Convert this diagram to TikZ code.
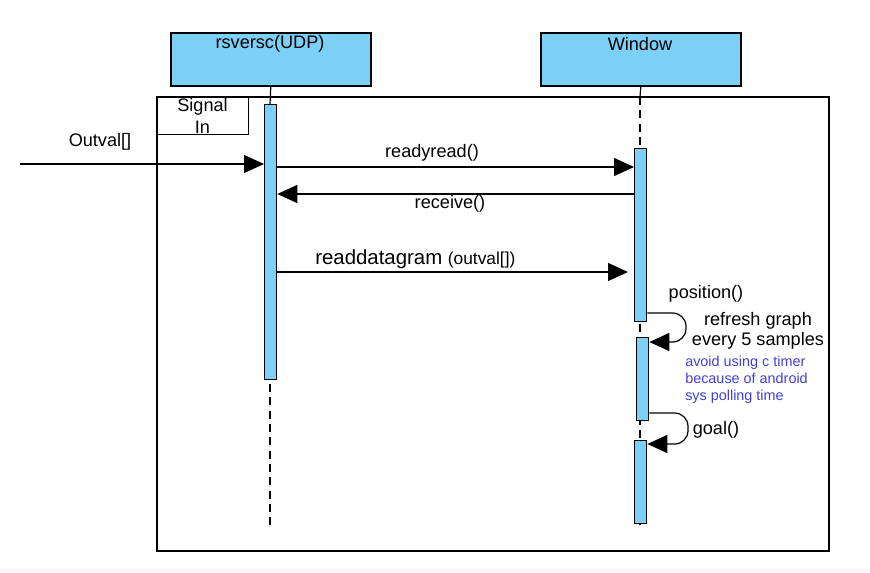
\documentclass[tikz,border=0pt]{standalone}
\usepackage{fontspec}
\setmainfont{Liberation Sans}
\usetikzlibrary{arrows.meta}
\definecolor{lblue}{HTML}{7CCFF5}
\definecolor{notec}{HTML}{4040D8}
\begin{document}
\begin{tikzpicture}[x=0.75pt,y=-0.75pt,
  hdr/.style={draw=black,line width=1.2pt,fill=lblue,minimum width=150pt,minimum height=39.75pt,anchor=north west,inner sep=0pt},
  act/.style={draw=black,line width=1pt,fill=lblue,anchor=north west,inner sep=0pt,minimum width=9pt},
  life/.style={draw=black,line width=0.9pt,dash pattern=on 6pt off 4pt},
  msg/.style={line width=0.9pt,-{Triangle[length=15pt,width=13.5pt]}},
  lbl/.style={font=\fontsize{13.6}{15}\selectfont,inner sep=0pt}
]
\useasboundingbox (0,0) rectangle (870,572);
\fill[gray!5] (0,568) rectangle (870,572);
% frame
\draw[line width=1pt] (157,97) rectangle (829,551);
\node[draw=black,line width=1pt,anchor=north west,minimum width=68.25pt,minimum height=27.75pt,inner sep=0pt] (sig) at (157,97) {};
\node[lbl,align=center,font=\fontsize{13.6}{16.5}\selectfont] at (202.5,116) {Signal\\In};
% headers
\node[hdr] (h1) at (170,32) {};
\node[lbl] at (270,44) {rsversc(UDP)};
\node[hdr] (h2) at (540,32) {};
\node[lbl] at (640,44) {Window};
% lifelines
\coordinate (l1e) at (270,525);
\coordinate (l2e) at (640,525);
\draw[line width=0.9pt] (h1.south) -- (270,104);
\draw[life] (270,104) -- (l1e);
\draw[line width=0.9pt] (h2.south) -- (640,97);
\draw[life] (640,97) -- (l2e);
% activations
\node[act,minimum height=206.25pt] (a1) at (264,104) {};
\node[act,minimum height=129.75pt] (a2) at (634,148) {};
\node[act,minimum height=62.25pt] (a3) at (636,337) {};
\node[act,minimum height=62.25pt] (a4) at (634,440) {};
% messages
\coordinate (src) at (20,164);
\draw[msg] (src) -- (a1.west |- src);
\node[lbl] at (100,142) {Outval[]};
\draw[msg] (a1.east |- 0,167) -- (a2.west |- 0,167);
\node[lbl] at (432,153) {readyread()};
\draw[msg] (a2.west |- 0,194) -- (a1.east |- 0,194);
\node[lbl] at (450,204) {receive()};
\coordinate (rdend) at (628,272);
\draw[msg] (a1.east |- rdend) -- (rdend);
\node[inner sep=0pt,anchor=base west] at (315,264) {\fontsize{15.3}{17}\selectfont readdatagram\ \fontsize{13}{15}\selectfont(outval[])};
% self loops
\draw[msg,rounded corners=10pt] (a2.east |- 0,313) -| (686,342) -- (a3.east |- 0,342);
\node[lbl] at (706,294) {position()};
\node[lbl,align=center] at (758,331) {refresh graph\\every 5 samples};
\node[inner sep=0pt,align=left,anchor=north west,text=notec,font=\fontsize{10.8}{12.75}\selectfont] at (685,356) {avoid using c timer\\because of android\\sys polling time};
\draw[msg,rounded corners=10pt] (a3.east |- 0,413) -| (688,444) -- (a4.east |- 0,444);
\node[lbl] at (716,430) {goal()};
\end{tikzpicture}
\end{document}
